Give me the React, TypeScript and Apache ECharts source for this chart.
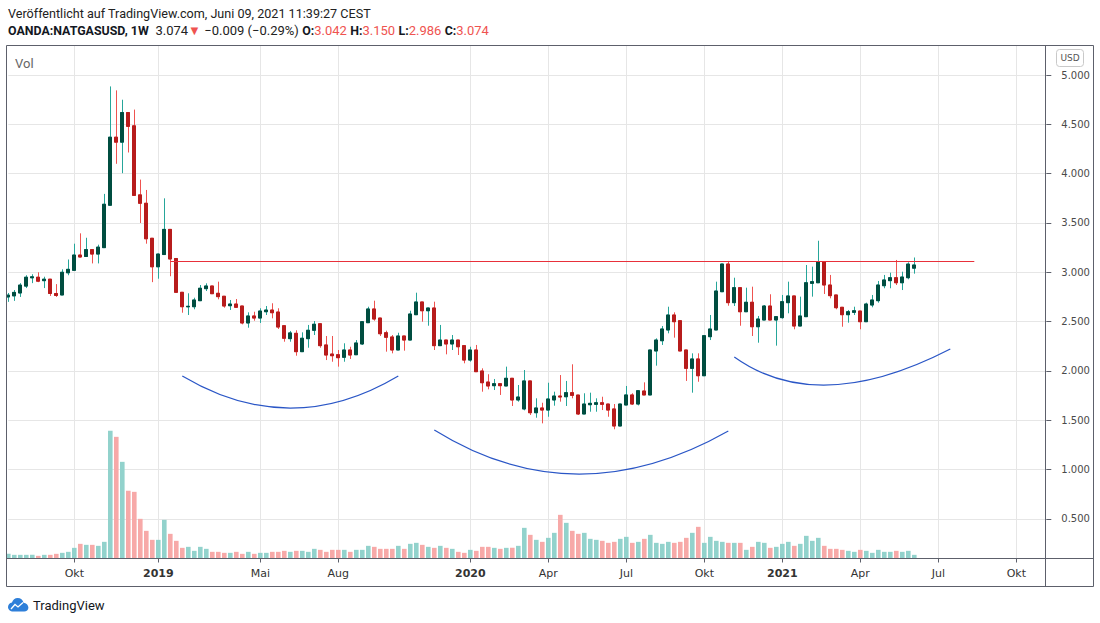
import React, { useEffect, useRef } from 'react';
import * as echarts from 'echarts';

// ---------- data (weekly bars, OANDA:NATGASUSD) ----------
const START_UTC = Date.UTC(2018, 6, 16); // first weekly bar: 2018-07-16
const WEEK_MS = 7 * 24 * 3600 * 1000;
const CATEGORY_COUNT = 174; // axis runs past the last bar, into autumn 2021

const open = [
  2.75, 2.761, 2.79, 2.86, 2.944, 2.95, 2.915, 2.93, 2.785, 2.77,
  2.995, 3.02, 3.175, 3.16, 3.23, 3.185, 3.25, 3.68, 4.37, 4.32,
  4.62, 4.485, 3.785, 3.70, 3.345, 3.056, 3.18, 3.435, 3.14, 2.797,
  2.65, 2.651, 2.712, 2.834, 2.861, 2.787, 2.757, 2.661, 2.678, 2.658,
  2.486, 2.557, 2.536, 2.60, 2.617, 2.597, 2.458, 2.327, 2.381, 2.195,
  2.327, 2.412, 2.478, 2.263, 2.171, 2.164, 2.138, 2.212, 2.164, 2.273,
  2.489, 2.628, 2.536, 2.387, 2.344, 2.212, 2.354, 2.313, 2.57, 2.699,
  2.61, 2.638, 2.256, 2.313, 2.273, 2.313, 2.256, 2.11, 2.212, 1.999,
  1.887, 1.85, 1.87, 1.847, 1.925, 1.705, 1.614, 1.898, 1.576, 1.624,
  1.603, 1.705, 1.745, 1.738, 1.779, 1.755, 1.563, 1.657, 1.661, 1.677,
  1.664, 1.614, 1.441, 1.654, 1.756, 1.664, 1.796, 1.756, 2.202, 2.306,
  2.415, 2.567, 2.509, 2.212, 2.026, 2.121, 1.951, 2.347, 2.415, 2.803,
  3.084, 2.692, 2.844, 2.60, 2.696, 2.448, 2.516, 2.658, 2.516, 2.54,
  2.692, 2.76, 2.455, 2.55, 2.888, 2.894, 3.107, 2.871, 2.77, 2.645,
  2.57, 2.594, 2.607, 2.499, 2.668, 2.712, 2.864, 2.915, 2.945, 2.894,
  2.945, 3.042,
];
const high = [
  2.79, 2.82, 2.89, 2.97, 2.98, 3.00, 2.955, 2.93, 2.88, 3.03,
  3.13, 3.29, 3.395, 3.35, 3.23, 3.28, 3.795, 4.885, 4.845, 4.75,
  4.62, 4.65, 3.94, 3.835, 3.345, 3.19, 3.75, 3.435, 3.14, 2.797,
  2.787, 2.742, 2.871, 2.888, 2.861, 2.905, 2.757, 2.719, 2.729, 2.658,
  2.594, 2.60, 2.635, 2.658, 2.686, 2.635, 2.458, 2.405, 2.412, 2.391,
  2.466, 2.506, 2.483, 2.354, 2.354, 2.212, 2.28, 2.245, 2.313, 2.506,
  2.651, 2.712, 2.536, 2.408, 2.364, 2.387, 2.354, 2.61, 2.793, 2.699,
  2.64, 2.702, 2.466, 2.313, 2.364, 2.313, 2.256, 2.245, 2.263, 2.026,
  1.966, 1.918, 1.87, 2.043, 1.925, 1.857, 2.009, 1.898, 1.722, 1.677,
  1.88, 1.789, 1.958, 1.898, 2.067, 1.755, 1.773, 1.779, 1.722, 1.738,
  1.664, 1.664, 1.664, 1.847, 1.773, 1.799, 1.884, 2.212, 2.33, 2.455,
  2.651, 2.594, 2.509, 2.212, 2.178, 2.178, 2.357, 2.567, 2.905, 3.084,
  3.115, 2.945, 2.844, 2.844, 2.854, 2.557, 2.668, 2.777, 2.55, 2.77,
  2.905, 2.76, 2.753, 3.074, 3.057, 3.32, 3.107, 2.973, 2.77, 2.645,
  2.618, 2.651, 2.607, 2.692, 2.77, 2.912, 2.973, 2.996, 3.125, 3.006,
  3.101, 3.150,
];
const low = [
  2.70, 2.71, 2.75, 2.84, 2.89, 2.90, 2.84, 2.76, 2.75, 2.77,
  2.97, 3.02, 3.15, 3.16, 3.09, 3.09, 3.25, 3.68, 4.10, 4.005,
  4.215, 3.78, 3.50, 3.29, 2.90, 2.935, 3.18, 2.96, 2.79, 2.59,
  2.567, 2.625, 2.712, 2.81, 2.78, 2.726, 2.641, 2.618, 2.645, 2.472,
  2.438, 2.509, 2.486, 2.567, 2.533, 2.425, 2.296, 2.296, 2.154, 2.195,
  2.235, 2.364, 2.235, 2.11, 2.093, 2.043, 2.093, 2.121, 2.164, 2.263,
  2.489, 2.509, 2.354, 2.195, 2.178, 2.212, 2.205, 2.313, 2.57, 2.499,
  2.458, 2.212, 2.256, 2.168, 2.212, 2.161, 2.077, 2.093, 1.992, 1.789,
  1.813, 1.806, 1.756, 1.847, 1.644, 1.688, 1.60, 1.553, 1.525, 1.468,
  1.535, 1.647, 1.688, 1.644, 1.722, 1.553, 1.563, 1.586, 1.586, 1.603,
  1.535, 1.408, 1.441, 1.654, 1.654, 1.65, 1.756, 1.756, 2.053, 2.263,
  2.381, 2.337, 2.202, 1.898, 1.779, 1.89, 1.951, 2.313, 2.415, 2.803,
  2.661, 2.658, 2.458, 2.60, 2.354, 2.286, 2.516, 2.516, 2.256, 2.53,
  2.584, 2.422, 2.455, 2.55, 2.753, 2.894, 2.78, 2.736, 2.625, 2.448,
  2.489, 2.567, 2.422, 2.499, 2.645, 2.692, 2.838, 2.838, 2.871, 2.82,
  2.929, 2.986,
];
const close = [
  2.768, 2.796, 2.87, 2.95, 2.954, 2.91, 2.93, 2.785, 2.765, 3.00,
  3.03, 3.175, 3.155, 3.23, 3.185, 3.255, 3.69, 4.37, 4.32, 4.62,
  4.48, 3.78, 3.70, 3.34, 3.056, 3.185, 3.435, 3.135, 2.797, 2.651,
  2.655, 2.719, 2.838, 2.861, 2.783, 2.753, 2.658, 2.678, 2.645, 2.486,
  2.557, 2.536, 2.607, 2.617, 2.59, 2.445, 2.331, 2.385, 2.195, 2.331,
  2.412, 2.473, 2.256, 2.161, 2.154, 2.134, 2.212, 2.161, 2.283, 2.499,
  2.628, 2.526, 2.377, 2.341, 2.212, 2.354, 2.313, 2.577, 2.699, 2.61,
  2.638, 2.256, 2.313, 2.273, 2.313, 2.245, 2.11, 2.212, 1.992, 1.88,
  1.847, 1.87, 1.85, 1.925, 1.705, 1.735, 1.898, 1.576, 1.624, 1.603,
  1.715, 1.745, 1.735, 1.779, 1.752, 1.563, 1.664, 1.671, 1.677, 1.661,
  1.603, 1.441, 1.664, 1.756, 1.664, 1.799, 1.756, 2.212, 2.313, 2.425,
  2.567, 2.499, 2.202, 2.026, 2.121, 1.951, 2.357, 2.425, 2.81, 3.084,
  2.692, 2.844, 2.60, 2.696, 2.448, 2.526, 2.658, 2.516, 2.55, 2.702,
  2.76, 2.455, 2.557, 2.894, 2.905, 3.107, 2.871, 2.763, 2.641, 2.57,
  2.60, 2.61, 2.499, 2.678, 2.719, 2.871, 2.922, 2.945, 2.894, 2.952,
  3.083, 3.074,
];
const volume = [
  1400, 1100, 1100, 1100, 1100, 800, 1100, 1100, 1400, 1700,
  2000, 3200, 4400, 4100, 4100, 3800, 5000, 38300, 36500, 29000,
  20300, 20000, 11900, 8300, 5600, 5600, 11600, 7400, 5300, 3200,
  3500, 2300, 3500, 2900, 2000, 2000, 1700, 1700, 2000, 1400,
  2000, 1400, 1700, 1700, 2000, 2000, 2300, 2000, 2300, 2300,
  2000, 2900, 2600, 2000, 2600, 2600, 2600, 2000, 2600, 2600,
  3800, 3500, 2900, 2900, 2900, 3800, 2900, 4400, 4700, 4100,
  3500, 3200, 3800, 3200, 2900, 2000, 1700, 2600, 2300, 3500,
  3500, 3200, 2900, 3200, 3200, 3800, 9200, 7100, 5600, 5000,
  6200, 7700, 13100, 10700, 8300, 7400, 7700, 5900, 5600, 5300,
  4700, 5000, 5900, 6500, 4700, 5000, 5900, 7100, 4700, 4400,
  5000, 4700, 5000, 6200, 7700, 9500, 4700, 6500, 5300, 5000,
  4700, 4700, 4700, 2600, 3500, 5000, 4700, 3200, 3500, 4400,
  5000, 3800, 4400, 6800, 5300, 6200, 3800, 2900, 2900, 2600,
  2300, 2000, 2600, 2300, 1700, 2600, 2000, 2000, 2300, 2000,
  2300, 1100,
];

// time-axis labels: first weekly bar of each of these months
const tickMonths = ['2018-10', '2019-01', '2019-05', '2019-08', '2020-01', '2020-04', '2020-07', '2020-10', '2021-01', '2021-04', '2021-07', '2021-10'];
const tickLabels = ['Okt', '2019', 'Mai', 'Aug', '2020', 'Apr', 'Jul', 'Okt', '2021', 'Apr', 'Jul', 'Okt'];

// horizontal resistance ray
const resistanceLevel = [3.109, 3.109];
const resistanceBars = [27, 161];

// drawn arcs: start, lowest point, end as [bar, price]
const arcStarts = [[29, 1.949], [71, 1.401], [121, 2.141]];
const arcLows = [[47, 1.623], [95, 0.954], [137, 1.857]];
const arcEnds = [[65, 1.949], [120, 1.391], [157, 2.222]];

// ---------- styles ----------
const UP_WICK = '#26a69a';
const DOWN_WICK = '#ef5350';
const UP_BODY = '#004d40';
const DOWN_BODY = '#b71c1c';
const VOL_UP = '#92d2cc';
const VOL_DOWN = '#f7a9a8';
const FRAME = '#5d606b';
const GRID = '#e6e6e6';
const AXIS_FONT = 'DejaVu Sans';

const categories = Array.from({ length: CATEGORY_COUNT }, (_, i) =>
  new Date(START_UTC + i * WEEK_MS).toISOString().slice(0, 10)
);
const tickIndexLabel: Record<number, string> = {};
tickMonths.forEach((m, k) => {
  const idx = categories.findIndex((d) => d.slice(0, 7) === m);
  if (idx >= 0) tickIndexLabel[idx] = tickLabels[k];
});
const isTick = (index: number) => tickIndexLabel[index] !== undefined;

const LOGO_PATH =
  'M6 16 C2.7 16 0 13.6 0 10.6 C0 7.9 2 5.7 4.7 5.2 C5.5 2.2 8.2 0 11.4 0 C14.8 0 17.6 2.4 18.2 5.6 C21.4 5.9 24 8.4 24 11.5 C24 14 21.8 16 19 16 Z';

let logoRegistered = false;
function registerLogo() {
  if (logoRegistered) return;
  const Shape = (echarts.graphic as any).extendPath(LOGO_PATH, {});
  echarts.graphic.registerShape('tvlogo', Shape);
  logoRegistered = true;
}

export default function App() {
  const ref = useRef<HTMLDivElement>(null);

  useEffect(() => {
    document.body.style.margin = '0';
    registerLogo();
    const chart = echarts.init(ref.current as HTMLDivElement, null, { renderer: 'svg' });

    const candleData = open.map((o, i) => [o, close[i], low[i], high[i]]);
    const bodyData = open.map((o, i) => [o, close[i], Math.min(o, close[i]), Math.max(o, close[i])]);
    const volData = volume.map((v, i) => ({
      value: v,
      itemStyle: { color: close[i] >= open[i] ? VOL_UP : VOL_DOWN },
    }));
    const arcData = arcStarts.map((s, k) => [s[0], s[1], arcLows[k][0], arcLows[k][1], arcEnds[k][0], arcEnds[k][1]]);

    const option: any = {
      animation: false,
      backgroundColor: '#ffffff',
      grid: { left: 8.3, top: 45.5, width: 1038, height: 513, containLabel: false },
      xAxis: {
        type: 'category',
        data: categories,
        boundaryGap: false,
        axisLine: { show: false },
        axisTick: { show: true, interval: isTick, length: 4, lineStyle: { color: FRAME } },
        axisLabel: {
          interval: isTick,
          margin: 9,
          color: '#333333',
          fontFamily: AXIS_FONT,
          fontSize: 11,
          formatter: (_v: string, i: number) => {
            const t = tickIndexLabel[i] || '';
            return /^\d{4}$/.test(t) ? '{y|' + t + '}' : t;
          },
          rich: { y: { fontWeight: 'bold', fontFamily: AXIS_FONT, fontSize: 11, color: '#333333' } },
        },
        splitLine: { show: true, interval: isTick, lineStyle: { color: GRID, width: 1 } },
      },
      yAxis: [
        {
          type: 'value',
          position: 'right',
          min: 0.0974,
          max: 5.3,
          splitNumber: 10,
          axisLine: { show: false },
          axisTick: { show: true, length: 5, lineStyle: { color: FRAME } },
          axisLabel: {
            showMinLabel: false,
            showMaxLabel: false,
            margin: 15,
            color: '#4a4a4a',
            fontFamily: AXIS_FONT,
            fontSize: 10,
            formatter: (v: number) => v.toFixed(3),
          },
          splitLine: { show: true, lineStyle: { color: GRID, width: 1 } },
        },
        { type: 'value', min: 0, max: 153900, show: false, splitLine: { show: false } },
      ],
      series: [
        {
          name: 'Vol',
          type: 'bar',
          yAxisIndex: 1,
          data: volData,
          barWidth: 4.6,
          clip: false,
          z: 1,
          silent: true,
        },
        {
          name: 'wicks',
          type: 'candlestick',
          data: candleData,
          barWidth: 3.4,
          clip: false,
          z: 3,
          itemStyle: { color: UP_BODY, color0: DOWN_BODY, borderColor: UP_WICK, borderColor0: DOWN_WICK, borderWidth: 1 },
        },
        {
          name: 'bodies',
          type: 'candlestick',
          data: bodyData,
          barWidth: 3.4,
          clip: false,
          z: 4,
          itemStyle: { color: UP_BODY, color0: DOWN_BODY, borderColor: UP_BODY, borderColor0: DOWN_BODY, borderWidth: 1 },
        },
        {
          name: 'resistance',
          type: 'line',
          data: resistanceBars.map((b, k) => [b, resistanceLevel[k]]),
          symbol: 'none',
          silent: true,
          z: 5,
          lineStyle: { color: '#e8303a', width: 1.1 },
        },
        {
          name: 'arcs',
          type: 'custom',
          data: arcData,
          encode: { x: [0, 2, 4], y: [1, 3, 5] },
          silent: true,
          z: 6,
          renderItem: (_p: any, api: any) => {
            const p0 = api.coord([api.value(0), api.value(1)]);
            const pm = api.coord([api.value(2), api.value(3)]);
            const p2 = api.coord([api.value(4), api.value(5)]);
            const cx = 2 * pm[0] - (p0[0] + p2[0]) / 2;
            const cy = 2 * pm[1] - (p0[1] + p2[1]) / 2;
            return {
              type: 'bezierCurve',
              shape: { x1: p0[0], y1: p0[1], x2: p2[0], y2: p2[1], cpx1: cx, cpy1: cy },
              style: { stroke: '#2a56c6', fill: null, lineWidth: 1.2 },
            };
          },
        },
      ],
      graphic: [
        // frame
        {
          type: 'rect', z: 100, silent: true,
          shape: { x: 6.5, y: 45.5, width: 1087, height: 541 },
          style: { fill: 'none', stroke: FRAME, lineWidth: 1 },
        },
        {
          type: 'line', z: 100, silent: true,
          shape: { x1: 1045.5, y1: 45.5, x2: 1045.5, y2: 586.5 },
          style: { stroke: FRAME, lineWidth: 1 },
        },
        {
          type: 'line', z: 100, silent: true,
          shape: { x1: 6.5, y1: 558.5, x2: 1093.5, y2: 558.5 },
          style: { stroke: FRAME, lineWidth: 1 },
        },
        // header
        {
          type: 'text', x: 8, y: 13, z: 100, silent: true,
          style: {
            text: 'Veröffentlicht auf TradingView.com, Juni 09, 2021 11:39:27 CEST',
            font: '12.6px Roboto',
            fill: '#222222',
            verticalAlign: 'middle',
          },
        },
        {
          type: 'text', x: 8, y: 30, z: 100, silent: true,
          style: {
            text: '{b|OANDA:NATGASUSD, 1W}  {n|3.074}{r|▼} {n|−0.009 (−0.29%)} {b|O:}{r|3.042} {b|H:}{r|3.150} {b|L:}{r|2.986} {b|C:}{r|3.074}',
            verticalAlign: 'middle',
            rich: {
              b: { fontFamily: 'Roboto', fontSize: 12.4, fontWeight: 'bold', fill: '#131722' },
              n: { fontFamily: 'Roboto', fontSize: 13, fill: '#222222' },
              r: { fontFamily: 'Roboto', fontSize: 13, fill: '#ef5350' },
            },
          },
        },
        // pane title
        {
          type: 'text', x: 15, y: 63, z: 100, silent: true,
          style: { text: 'Vol', font: '13px Roboto', fill: '#666666', verticalAlign: 'middle' },
        },
        // currency badge
        {
          type: 'rect', z: 100, silent: true,
          shape: { x: 1056.5, y: 49.5, width: 27, height: 17, r: 3 },
          style: { fill: '#ffffff', stroke: '#c9c9c9', lineWidth: 1 },
        },
        {
          type: 'text', x: 1070, y: 58, z: 101, silent: true,
          style: { text: 'USD', font: '9px ' + AXIS_FONT, fill: '#555555', align: 'center', verticalAlign: 'middle' },
        },
        // footer logo
        {
          type: 'tvlogo', x: 8, y: 598, scaleX: 0.85, scaleY: 0.85, z: 100, silent: true,
          style: { fill: '#2e7fd9' },
        },
        {
          type: 'polyline', z: 101, silent: true,
          shape: { points: [[11, 609], [15, 604.5], [18, 607], [23, 602.5]] },
          style: { stroke: '#ffffff', lineWidth: 1.3, fill: null },
        },
        {
          type: 'text', x: 33, y: 605, z: 100, silent: true,
          style: { text: 'TradingView', font: '13px Roboto', fill: '#131722', verticalAlign: 'middle' },
        },
      ],
    };

    chart.setOption(option);
    return () => chart.dispose();
  }, []);

  return <div ref={ref} style={{ width: 1100, height: 623 }} />;
}
